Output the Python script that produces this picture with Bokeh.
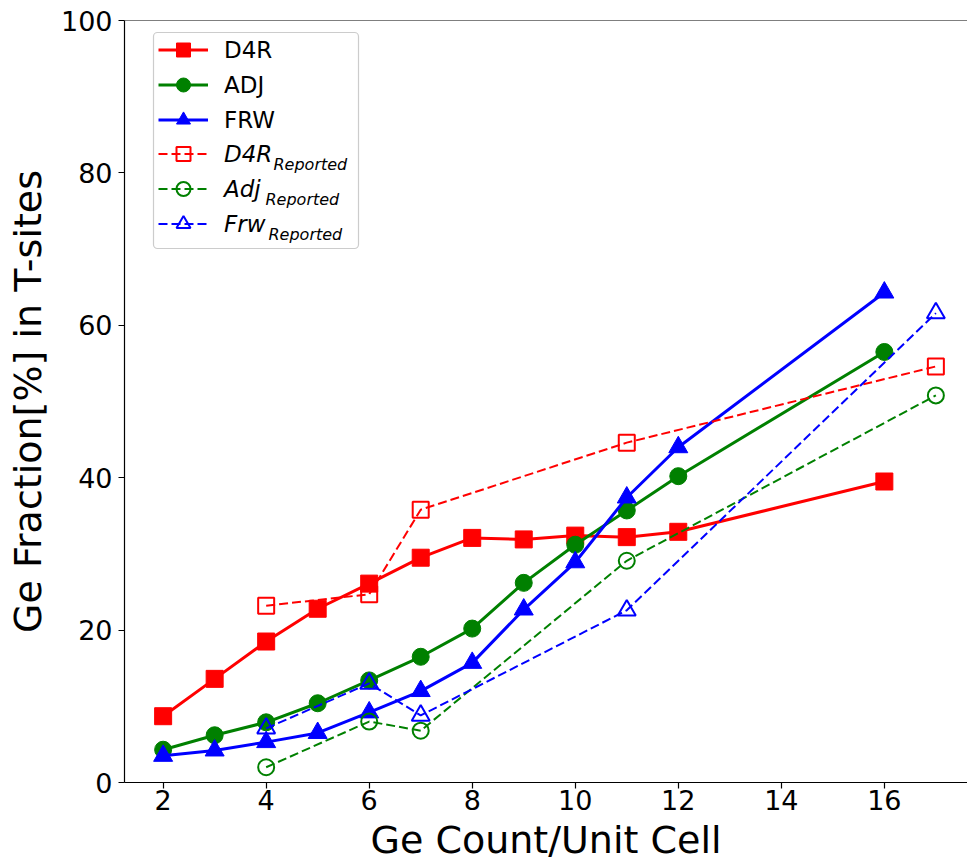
from bokeh.plotting import figure
from bokeh.models import (Range1d, Legend, LegendItem, Span, Label, BoxAnnotation,
                          FixedTicker)
from bokeh.embed import file_html
from bokeh.resources import INLINE

# ---- data ----
ge_count = [2, 3, 4, 5, 6, 7, 8, 9, 10, 11, 12, 16]
d4r = [8.7, 13.6, 18.5, 22.8, 26.1, 29.5, 32.1, 31.9, 32.4, 32.2, 32.9, 39.5]
adj = [4.3, 6.2, 7.9, 10.4, 13.4, 16.5, 20.2, 26.2, 31.2, 35.7, 40.2, 56.5]
frw = [3.5, 4.2, 5.3, 6.5, 9.2, 12.0, 15.7, 22.7, 28.9, 37.4, 44.0, 64.3]

rep_count = [4, 6, 7, 11, 17]
d4r_rep = [23.2, 24.7, 35.8, 44.6, 54.6]
adj_rep = [2.0, 8.0, 6.8, 29.1, 50.8]
frw_rep = [7.1, 13.0, 8.8, 22.6, 61.6]

x_ticks = [2, 4, 6, 8, 10, 12, 14, 16]
y_ticks = [0, 20, 40, 60, 80, 100]

FONT = "DejaVu Sans"
RED, GREEN, BLUE = "#ff0000", "#008000", "#0000ff"

p = figure(width=967, height=865, output_backend="svg", toolbar_location=None,
           x_range=Range1d(1.25, 17.614), y_range=Range1d(0, 100),
           min_border_left=124, min_border_right=0, min_border_top=20,
           min_border_bottom=83,
           x_axis_label="Ge Count/Unit Cell",
           y_axis_label="Ge Fraction[%] in T-sites")
p.outline_line_color = None
p.xgrid.visible = False
p.ygrid.visible = False
p.background_fill_color = "white"
p.border_fill_color = "white"

for ax in (p.xaxis[0], p.yaxis[0]):
    ax.axis_line_width = 1.2
    ax.axis_line_color = "black"
    ax.major_tick_line_width = 1.2
    ax.major_tick_line_color = "black"
    ax.major_tick_out = 6
    ax.major_tick_in = 0
    ax.minor_tick_line_color = None
    ax.major_label_text_font = FONT
    ax.major_label_text_font_size = "27px"
    ax.major_label_text_color = "black"
    ax.axis_label_text_font = FONT
    ax.axis_label_text_font_size = "38px"
    ax.axis_label_text_font_style = "normal"
    ax.axis_label_text_color = "black"

p.xaxis.ticker = FixedTicker(ticks=x_ticks)
p.yaxis.ticker = FixedTicker(ticks=y_ticks)
p.xaxis.major_label_standoff = 1
p.xaxis.axis_label_standoff = 5
p.yaxis.major_label_standoff = 6
p.yaxis.axis_label_standoff = 8

# top spine
p.add_layout(Span(location=100, dimension="width", line_color="black", line_width=1.2))

# ---- series ----
l1 = p.line(ge_count, d4r, line_color=RED, line_width=3)
s1 = p.scatter(ge_count, d4r, marker="square", size=17, fill_color=RED, line_color=RED)
l2 = p.line(ge_count, adj, line_color=GREEN, line_width=3)
s2 = p.scatter(ge_count, adj, marker="circle", size=17, fill_color=GREEN, line_color=GREEN)
l3 = p.line(ge_count, frw, line_color=BLUE, line_width=3)
s3 = p.scatter(ge_count, frw, marker="triangle", size=19, fill_color=BLUE, line_color=BLUE)

l4 = p.line(rep_count, d4r_rep, line_color=RED, line_width=2, line_dash="9 4")
s4 = p.scatter(rep_count, d4r_rep, marker="square", size=16, fill_alpha=0,
               line_color=RED, line_width=2)
l5 = p.line(rep_count, adj_rep, line_color=GREEN, line_width=2, line_dash="9 4")
s5 = p.scatter(rep_count, adj_rep, marker="circle", size=16, fill_alpha=0,
               line_color=GREEN, line_width=2)
l6 = p.line(rep_count, frw_rep, line_color=BLUE, line_width=2, line_dash="9 4")
s6 = p.scatter(rep_count, frw_rep, marker="triangle", size=18, fill_alpha=0,
               line_color=BLUE, line_width=2)

# ---- legend ----
frame_box = BoxAnnotation(left=29, right=234, top=750, bottom=534,
                          left_units="screen", right_units="screen",
                          top_units="screen", bottom_units="screen",
                          fill_color="white", fill_alpha=0.85,
                          line_color="#cccccc", line_width=1.2, line_alpha=1.0,
                          border_radius=4)
p.add_layout(frame_box)

def make_legend(items, loc, style):
    lg = Legend(items=items, location=loc, margin=0, padding=0, spacing=0,
                glyph_width=50, glyph_height=35, label_height=35,
                label_standoff=16, label_text_font=FONT,
                label_text_font_size="23px", label_text_font_style=style,
                label_text_color="black",
                border_line_color=None, background_fill_alpha=0)
    return lg

leg_a = make_legend([
    LegendItem(label="D4R", renderers=[l1, s1]),
    LegendItem(label="ADJ", renderers=[l2, s2]),
    LegendItem(label="FRW", renderers=[l3, s3]),
], (34, 645), "normal")
leg_b = make_legend([
    LegendItem(label="D4R", renderers=[l4, s4]),
    LegendItem(label="Adj", renderers=[l5, s5]),
    LegendItem(label="Frw", renderers=[l6, s6]),
], (34, 541), "italic")
p.add_layout(leg_a)
p.add_layout(leg_b)

for sx, sy in [(149, 618), (141, 583), (144, 548)]:
    p.add_layout(Label(x=sx, y=sy, x_units="screen", y_units="screen",
                       text="Reported", text_font=FONT, text_font_size="16px",
                       text_font_style="italic", text_baseline="alphabetic",
                       text_color="black"))

open("out.html", "w").write(file_html(p, INLINE))
